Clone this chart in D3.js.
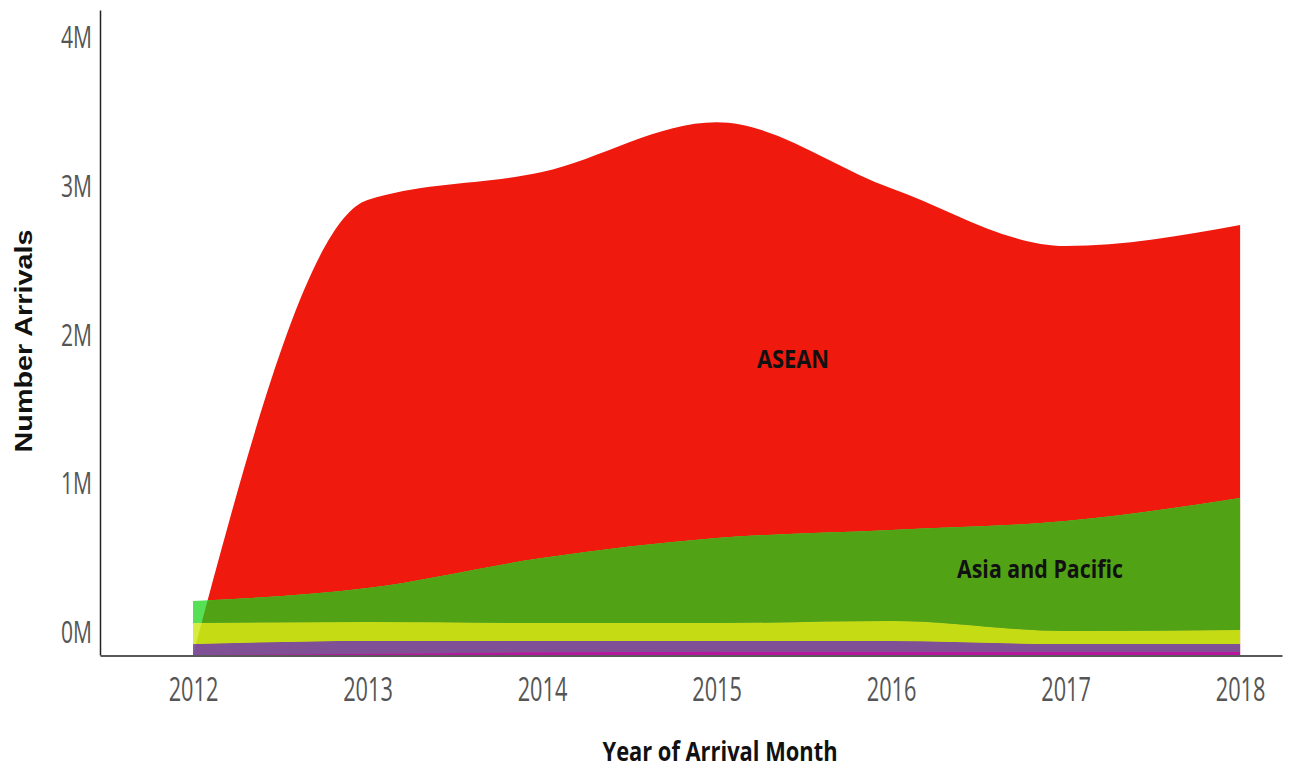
<!DOCTYPE html>
<html>
<head>
<meta charset="utf-8">
<script src="https://cdn.jsdelivr.net/npm/d3@7"></script>
<style>
  body { margin: 0; background: #fff; }
  svg { display: block; }
</style>
</head>
<body>
<svg id="chart"></svg>
<script>
// data (values in millions)
let years = [2012, 2013, 2014, 2015, 2016, 2017, 2018];
let asean = [0, 2.604, 2.591, 2.792, 2.295, 1.846, 1.832];
let asiaPacific = [0.147, 0.229, 0.436, 0.570, 0.611, 0.738, 0.886];
let americas = [0.141, 0.127, 0.121, 0.121, 0.134, 0.087, 0.094];
let europe = [0.074, 0.086, 0.076, 0.072, 0.072, 0.052, 0.052];
let other = [0, 0.008, 0.018, 0.022, 0.022, 0.022, 0.022];
let yTicks = [0, 1, 2, 3, 4];

let keys = ["Other", "Europe", "Americas", "Asia and Pacific", "ASEAN"];
let colors = {
    "Other": "#b5179e",
    "Europe": "#7f5096",
    "Americas": "#c5dc14",
    "Asia and Pacific": "#52a215",
    "ASEAN": "#f0190d"
};
// colour of the lower bands where they are not over the red area
let lightColors = {
    "Other": "#c040b0",
    "Europe": "#8a5ca2",
    "Americas": "#d6ec40",
    "Asia and Pacific": "#55e055"
};

let rows = years.map((y, i) => ({
    year: y,
    "Other": other[i] * 1e6,
    "Europe": europe[i] * 1e6,
    "Americas": americas[i] * 1e6,
    "Asia and Pacific": asiaPacific[i] * 1e6,
    "ASEAN": asean[i] * 1e6
}));

let width = 1289;
let height = 769;

let svg = d3.select("#chart")
    .attr("width", width)
    .attr("height", height);

let scaleX = d3.scaleLinear()
    .domain([2011.467, 2018.24])
    .range([100, 1282]);

let scaleY = d3.scaleLinear()
    .domain([0, 4.33e6])
    .range([655, 10]);

let stacked = d3.stack().keys(keys)(rows);
let topLayer = stacked[stacked.length - 1];

// red layer: drawn from zero up to the total, zero where there is no ASEAN value
let redArea = d3.area()
    .curve(d3.curveMonotoneX)
    .x((d, i) => scaleX(years[i]))
    .y0(scaleY(0))
    .y1((d, i) => asean[i] > 0 ? scaleY(d[1]) : scaleY(0));

let bandArea = d3.area()
    .curve(d3.curveMonotoneX)
    .x(d => scaleX(d.data.year))
    .y0(d => scaleY(d[0]))
    .y1(d => scaleY(d[1]));

svg.append("path")
    .datum(topLayer)
    .attr("d", redArea)
    .attr("fill", colors["ASEAN"]);

svg.append("clipPath")
    .attr("id", "redClip")
    .append("path")
    .datum(topLayer)
    .attr("d", redArea);

let lower = stacked.slice(0, stacked.length - 1);

// lower bands, light version (outside the red shape)
svg.append("g")
    .selectAll("path")
    .data(lower)
    .join("path")
    .attr("d", bandArea)
    .attr("fill", d => lightColors[d.key]);

// lower bands, darker version (over the red shape)
svg.append("g")
    .attr("clip-path", "url(#redClip)")
    .selectAll("path")
    .data(lower)
    .join("path")
    .attr("d", bandArea)
    .attr("fill", d => colors[d.key]);

// axes
let sx = 0.68;

let axisX = d3.axisBottom(scaleX)
    .tickValues(years)
    .tickFormat(d3.format("d"))
    .tickSize(0)
    .tickSizeOuter(0);

let gx = svg.append("g")
    .attr("transform", `translate(0, ${scaleY(0) + 0.5})`)
    .call(axisX);
gx.select(".domain").attr("stroke", "#222").attr("stroke-width", 1.5);
gx.selectAll("text")
    .attr("y", 46)
    .attr("dy", 0)
    .attr("transform", `scale(${sx},1)`)
    .style("font-family", "'Open Sans', sans-serif")
    .style("font-size", "32px")
    .style("fill", "#555");

let axisY = d3.axisLeft(scaleY)
    .tickValues(yTicks.map(v => v * 1e6))
    .tickFormat(d => (d / 1e6) + "M")
    .tickSize(0)
    .tickSizeOuter(0);

let gy = svg.append("g")
    .attr("transform", `translate(${scaleX.range()[0]}, 0)`)
    .call(axisY);
gy.select(".domain").attr("stroke", "#222").attr("stroke-width", 1.5);
gy.selectAll("text")
    .attr("x", -8 / sx)
    .attr("y", -22)
    .attr("transform", `scale(${sx},1)`)
    .style("font-family", "'Open Sans', sans-serif")
    .style("font-size", "31px")
    .style("fill", "#555");

// axis titles
svg.append("text")
    .attr("transform", "translate(32, 341) rotate(-90)")
    .attr("text-anchor", "middle")
    .attr("textLength", 223)
    .attr("lengthAdjust", "spacingAndGlyphs")
    .style("font-family", "'Liberation Sans', Arial, sans-serif")
    .style("font-weight", "bold")
    .style("font-size", "23px")
    .style("fill", "#111")
    .text("Number Arrivals");

svg.append("text")
    .attr("x", 720)
    .attr("y", 761)
    .attr("text-anchor", "middle")
    .attr("textLength", 235)
    .attr("lengthAdjust", "spacingAndGlyphs")
    .style("font-family", "'Open Sans', sans-serif")
    .style("font-weight", "bold")
    .style("font-size", "26px")
    .style("fill", "#111")
    .text("Year of Arrival Month");

// series labels
svg.append("text")
    .attr("x", 793)
    .attr("y", 368)
    .attr("text-anchor", "middle")
    .attr("textLength", 72)
    .attr("lengthAdjust", "spacingAndGlyphs")
    .style("font-family", "'Open Sans', sans-serif")
    .style("font-weight", "bold")
    .style("font-size", "25px")
    .style("fill", "#111")
    .text("ASEAN");

svg.append("text")
    .attr("x", 1040)
    .attr("y", 578)
    .attr("text-anchor", "middle")
    .attr("textLength", 166)
    .attr("lengthAdjust", "spacingAndGlyphs")
    .style("font-family", "'Open Sans', sans-serif")
    .style("font-weight", "bold")
    .style("font-size", "25px")
    .style("fill", "#111")
    .text("Asia and Pacific");
</script>
</body>
</html>
